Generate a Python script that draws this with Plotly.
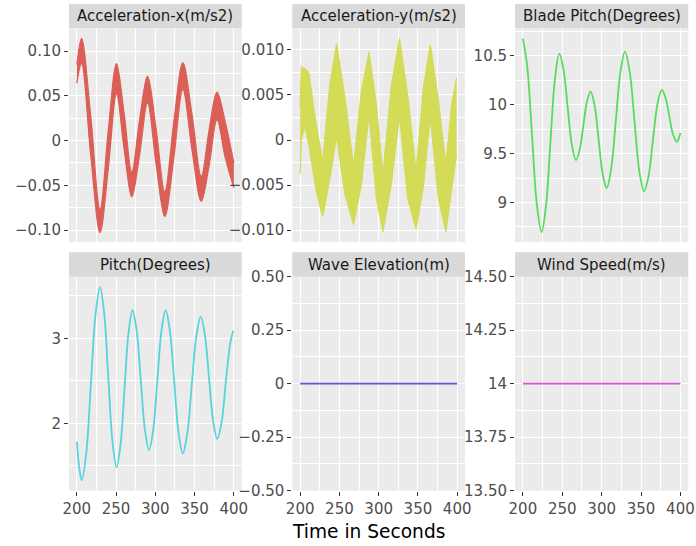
import plotly.graph_objects as go

FONT = "DejaVu Sans"

# ---------------- data ----------------
# Acceleration-x (m/s2): upper / lower envelope of the noisy band
acc_x_t = [200, 206, 217.75, 229.5, 240, 250.5, 260.25, 270, 280, 290, 301, 312,
           323.5, 335, 346.75, 358.5, 368.5, 378.5, 389.25, 400]
acc_x_upper = [0.085, 0.114, 0.027, -0.077, 0.011, 0.086, 0.030, -0.035, 0.024, 0.072,
               0.013, -0.057, 0.021, 0.087, 0.029, -0.040, 0.012, 0.054, 0.020, -0.025]
acc_x_lower = [0.064, 0.086, -0.017, -0.103, -0.032, 0.052, -0.010, -0.063, -0.016, 0.042,
               -0.027, -0.085, -0.020, 0.057, -0.011, -0.068, -0.028, 0.023, -0.020, -0.053]

# Acceleration-y (m/s2): upper / lower envelope of the noisy band
acc_y_t = [200, 201.5, 206, 211, 220, 228.7, 237.5, 246.4, 257, 268, 278, 287.8, 297,
           305.5, 316, 326.6, 337, 347.7, 357, 365.8, 376, 385.7, 393, 399.2]
acc_y_upper = [0.0037, 0.0081, 0.0079, 0.0075, 0.0020, -0.0024, 0.0060, 0.0107, 0.0048,
               -0.0029, 0.0055, 0.0098, 0.0040, -0.0038, 0.0060, 0.0113, 0.0050, -0.0035,
               0.0058, 0.0106, 0.0045, -0.0027, 0.0040, 0.0069]
acc_y_lower = [-0.0038, 0.0000, 0.0015, -0.0005, -0.0055, -0.0085, -0.0045, 0.0004, -0.0060,
               -0.0094, -0.0050, 0.0028, -0.0065, -0.0102, -0.0050, 0.0026, -0.0065, -0.0099,
               -0.0052, 0.0026, -0.0065, -0.0102, -0.0055, -0.0016]

# Blade Pitch (Degrees)
blade_t = [200, 205.55, 211.6, 217.65, 223.7, 229.3, 234.95, 240.6, 246.2, 251.5, 256.8,
           262.1, 267.4, 272.05, 276.7, 281.35, 286, 291.1, 296.2, 301.3, 306.4, 312.2,
           318.05, 323.9, 329.7, 335.7, 341.75, 347.8, 353.8, 359.4, 365.05, 370.7, 376.3,
           381.05, 385.8, 390.55, 395.3, 397.7, 400]
blade_v = [10.677, 10.39, 9.688, 8.986, 8.696, 8.963, 9.61, 10.257, 10.524, 10.365, 9.979,
           9.592, 9.433, 9.535, 9.784, 10.033, 10.135, 9.991, 9.641, 9.291, 9.147, 9.351,
           9.846, 10.34, 10.544, 10.335, 9.828, 9.321, 9.112, 9.264, 9.632, 10.0, 10.152,
           10.074, 9.886, 9.698, 9.62, 9.65, 9.712]

# Pitch (Degrees)
pitch_t = [200, 203.2, 206.3, 212.1, 217.9, 223.7, 229.5, 234.8, 240.05, 245.3, 250.6,
           255.7, 260.75, 265.8, 270.9, 276.2, 281.45, 286.7, 292, 297.3, 302.55, 307.8,
           313.1, 318.6, 324.05, 329.5, 335, 340.7, 346.4, 352.1, 357.8, 363.1, 368.35,
           373.6, 378.9, 384.5, 390, 395.5, 399.2]
pitch_v = [1.785, 1.47, 1.329, 1.661, 2.467, 3.272, 3.604, 3.295, 2.545, 1.794, 1.485,
           1.755, 2.408, 3.061, 3.331, 3.091, 2.509, 1.927, 1.687, 1.927, 2.509, 3.091,
           3.331, 3.085, 2.49, 1.894, 1.648, 1.882, 2.451, 3.019, 3.253, 3.043, 2.535,
           2.026, 1.816, 2.02, 2.51, 2.95, 3.09]

# Wave Elevation (m) and Wind Speed (m/s): constant signals
wave_t = [200, 400]
wave_v = [0, 0]
wind_t = [200, 400]
wind_v = [14, 14]

panel_titles = ["Acceleration-x(m/s2)", "Acceleration-y(m/s2)", "Blade Pitch(Degrees)",
                "Pitch(Degrees)", "Wave Elevation(m)", "Wind Speed(m/s)"]
colors = ["#db5f57", "#d3db57", "#57db5e", "#57d3db", "#5f57db", "#db57d3"]

x_ticks = [200, 250, 300, 350, 400]
x_ticktext = ["200", "250", "300", "350", "400"]
x_minor = [225, 275, 325, 375]

y_ticks = [
    [-0.10, -0.05, 0, 0.05, 0.10],
    [-0.010, -0.005, 0, 0.005, 0.010],
    [9, 9.5, 10, 10.5],
    [2, 3],
    [-0.5, -0.25, 0, 0.25, 0.5],
    [13.5, 13.75, 14, 14.25, 14.5],
]
y_ticktext = [
    ["\u22120.10", "\u22120.05", "0", "0.05", "0.10"],
    ["\u22120.010", "\u22120.005", "0", "0.005", "0.010"],
    ["9", "9.5", "10", "10.5"],
    ["2", "3"],
    ["\u22120.50", "\u22120.25", "0", "0.25", "0.50"],
    ["13.50", "13.75", "14", "14.25", "14.50"],
]
y_minor = [
    [-0.075, -0.025, 0.025, 0.075],
    [-0.0075, -0.0025, 0.0025, 0.0075],
    [8.75, 9.25, 9.75, 10.25, 10.75],
    [1.5, 2.5, 3.5],
    [-0.375, -0.125, 0.125, 0.375],
    [13.625, 13.875, 14.125, 14.375],
]
y_ranges = [
    [-0.1134, 0.1257],
    [-0.01133, 0.01244],
    [8.595, 10.786],
    [1.208, 3.726],
    [-0.5, 0.5],
    [13.5, 14.5],
]

# ---------------- layout geometry (pixels) ----------------
W, H = 696, 546
col_px = [(69, 241.7), (292.3, 465), (515, 688.3)]
row_px = [(28, 242), (276.7, 490.7)]
strip_px = [(4, 28), (252.3, 276.7)]


def px_x(v):
    return v / W


def px_y(v):
    return 1 - v / H


fig = go.Figure()

# band series (filled envelope)
bands = [(1, acc_x_t, acc_x_upper, acc_x_lower, "spline"),
         (2, acc_y_t, acc_y_upper, acc_y_lower, "linear")]
for idx, t, up, lo, shape in bands:
    c = colors[idx - 1]
    ax = "" if idx == 1 else str(idx)
    fig.add_trace(go.Scatter(x=t, y=lo, mode="lines", line=dict(color=c, width=1.2, shape=shape),
                             xaxis="x" + ax, yaxis="y" + ax, hoverinfo="skip"))
    fig.add_trace(go.Scatter(x=t, y=up, mode="lines", line=dict(color=c, width=1.2, shape=shape),
                             fill="tonexty", fillcolor=c,
                             xaxis="x" + ax, yaxis="y" + ax, hoverinfo="skip"))

lines = [(3, blade_t, blade_v), (4, pitch_t, pitch_v), (5, wave_t, wave_v), (6, wind_t, wind_v)]
for idx, t, v in lines:
    fig.add_trace(go.Scatter(x=t, y=v, mode="lines",
                             line=dict(color=colors[idx - 1], width=1.8, shape="spline"),
                             xaxis="x%d" % idx, yaxis="y%d" % idx))

layout = dict(width=W, height=H, margin=dict(l=0, r=0, t=0, b=0, autoexpand=False),
              paper_bgcolor="white", plot_bgcolor="#ebebeb", showlegend=False,
              font=dict(family=FONT, color="#4d4d4d"))

shapes = []
annotations = []
for i in range(6):
    r, c = divmod(i, 3)
    n = i + 1
    xs = "" if n == 1 else str(n)
    bottom = r == 1
    xd = [px_x(col_px[c][0]), px_x(col_px[c][1])]
    yd = [px_y(row_px[r][1]), px_y(row_px[r][0])]
    layout["xaxis" + xs] = dict(
        domain=xd, anchor="y" + xs, range=[190, 410], automargin=False,
        tickmode="array", tickvals=x_ticks, ticktext=x_ticktext,
        showticklabels=bottom, ticks="outside" if bottom else "",
        ticklen=4, tickwidth=1.1, tickcolor="#333333",
        tickfont=dict(size=15, color="#4d4d4d", family=FONT),
        showgrid=True, gridcolor="white", gridwidth=1.4,
        minor=dict(tickvals=x_minor, showgrid=True, gridcolor="white", gridwidth=0.7, ticks=""),
        zeroline=False, showline=False, fixedrange=True,
    )
    layout["yaxis" + xs] = dict(
        domain=yd, anchor="x" + xs, range=y_ranges[i], automargin=False,
        tickmode="array", tickvals=y_ticks[i], ticktext=y_ticktext[i],
        ticks="outside", ticklen=4, tickwidth=1.1, tickcolor="#333333",
        tickfont=dict(size=15, color="#4d4d4d", family=FONT),
        showgrid=True, gridcolor="white", gridwidth=1.4,
        minor=dict(tickvals=y_minor[i], showgrid=True, gridcolor="white", gridwidth=0.7, ticks=""),
        zeroline=False, showline=False, fixedrange=True,
    )
    sy0, sy1 = strip_px[r]
    shapes.append(dict(type="rect", xref="paper", yref="paper",
                       x0=xd[0], x1=xd[1], y0=px_y(sy1), y1=px_y(sy0),
                       fillcolor="#d9d9d9", line=dict(width=0)))
    annotations.append(dict(text=panel_titles[i], xref="paper", yref="paper",
                            x=(xd[0] + xd[1]) / 2, y=px_y((sy0 + sy1) / 2),
                            xanchor="center", yanchor="middle", showarrow=False,
                            font=dict(size=15, color="#1a1a1a", family=FONT)))

annotations.append(dict(text="Time in Seconds", xref="paper", yref="paper",
                        x=px_x(368.3), y=px_y(531.5), xanchor="center", yanchor="middle",
                        showarrow=False, font=dict(size=18.6, color="black", family=FONT)))

layout["shapes"] = shapes
layout["annotations"] = annotations
fig.update_layout(**layout)

fig.write_html("out.html", config={"displayModeBar": False},
               post_script="document.body.style.margin='0px';document.body.style.padding='0px';")
